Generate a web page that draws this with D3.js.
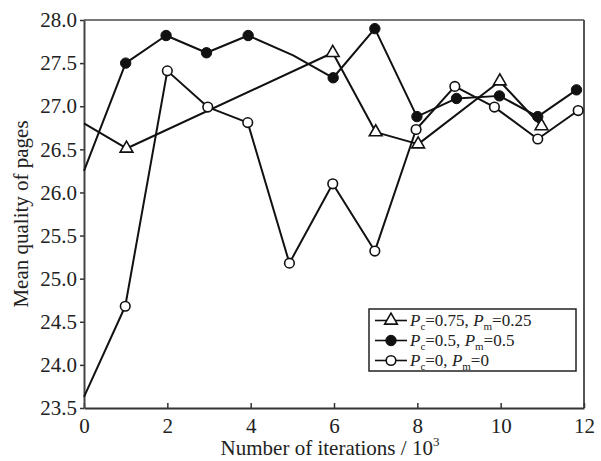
<!DOCTYPE html>
<html>
<head>
<meta charset="utf-8">
<script src="https://cdn.jsdelivr.net/npm/d3@7/dist/d3.min.js"></script>
<style>
  html, body { margin: 0; padding: 0; background: #fff; }
  svg { display: block; }
  text { font-family: "Liberation Serif", "Times New Roman", serif; fill: #222; }
</style>
</head>
<body>
<svg id="chart" width="601" height="461"></svg>
<script>
// ---- data ----
const xTicks = [0, 2, 4, 6, 8, 10, 12];
const yTicks = [23.5, 24.0, 24.5, 25.0, 25.5, 26.0, 26.5, 27.0, 27.5, 28.0];

// Pc=0.75, Pm=0.25 (open triangles)
const triX = [0, 1.02, 5.97, 7.0, 8.02, 9.98, 10.98];
const triY = [26.80, 26.51, 27.62, 26.70, 26.56, 27.29, 26.77];
const triMarked = [false, true, true, true, true, true, true];

// Pc=0.5, Pm=0.5 (filled circles)
const filX = [0, 1.0, 1.97, 2.94, 3.94, 5.02, 5.98, 6.98, 7.99, 8.94, 9.97, 10.89, 11.82];
const filY = [26.25, 27.50, 27.82, 27.62, 27.82, 27.59, 27.33, 27.90, 26.88, 27.09, 27.12, 26.88, 27.19];
const filMarked = [false, true, true, true, true, false, true, true, true, true, true, true, true];

// Pc=0, Pm=0 (open circles)
const opnX = [0, 0.99, 2.0, 2.97, 3.93, 4.93, 5.97, 6.98, 7.97, 8.9, 9.85, 10.89, 11.86];
const opnY = [23.63, 24.68, 27.41, 26.99, 26.81, 25.18, 26.10, 25.32, 26.73, 27.23, 26.99, 26.62, 26.95];
const opnMarked = [false, true, true, true, true, true, true, true, true, true, true, true, true];

const seriesNames = [
  { p1: "c", v1: "0.75", p2: "m", v2: "0.25" },
  { p1: "c", v1: "0.5",  p2: "m", v2: "0.5" },
  { p1: "c", v1: "0",    p2: "m", v2: "0" }
];

// ---- layout ----
const margin = { left: 84, top: 20, right: 17, bottom: 53 };
const W = 601, H = 461;
const pw = W - margin.left - margin.right;   // 500
const ph = H - margin.top - margin.bottom;   // 388

const svg = d3.select("#chart");
const g = svg.append("g").attr("transform", `translate(${margin.left},${margin.top})`);

const x = d3.scaleLinear().domain([0, 12]).range([0, pw]);
const y = d3.scaleLinear().domain([23.5, 28.0]).range([ph, 0]);

// frame top/right
g.append("line").attr("x1", 0).attr("x2", pw).attr("y1", 0).attr("y2", 0)
  .attr("stroke", "#777").attr("stroke-width", 2);
g.append("line").attr("x1", pw).attr("x2", pw).attr("y1", 0).attr("y2", ph)
  .attr("stroke", "#555").attr("stroke-width", 2);

// axes
const xAxis = d3.axisBottom(x).tickValues(xTicks).tickSizeInner(-5).tickSizeOuter(0).tickPadding(10)
  .tickFormat(d3.format("d"));
const gx = g.append("g").attr("transform", `translate(0,${ph})`).call(xAxis);
gx.select(".domain").attr("stroke", "#333").attr("stroke-width", 2);
gx.selectAll(".tick line").attr("stroke", "#333").attr("stroke-width", 1.5);
gx.selectAll(".tick text").attr("font-size", 21).attr("font-family", "Liberation Serif").attr("fill", "#222");

const yAxis = d3.axisLeft(y).tickValues(yTicks).tickSizeInner(4).tickSizeOuter(0).tickPadding(3)
  .tickFormat(d3.format(".1f"));
const gy = g.append("g").call(yAxis);
gy.select(".domain").attr("stroke", "#444").attr("stroke-width", 2);
gy.selectAll(".tick line").attr("stroke", "#333").attr("stroke-width", 1.5);
gy.selectAll(".tick text").attr("font-size", 21).attr("font-family", "Liberation Serif").attr("fill", "#222");

// axis titles
const xt = svg.append("text")
  .attr("x", margin.left + pw / 2 - 4).attr("y", 455)
  .attr("text-anchor", "middle").attr("font-size", 21);
xt.append("tspan").text("Number of iterations / 10");
xt.append("tspan").attr("font-size", 13).attr("dy", -9).text("3");

svg.append("text")
  .attr("transform", `translate(28,${margin.top + ph / 2}) rotate(-90)`)
  .attr("text-anchor", "middle").attr("font-size", 21)
  .text("Mean quality of pages");

// lines
const line = d3.line().x(d => x(d[0])).y(d => y(d[1]));
const mk = (xs, ys, ms) => xs.map((v, i) => [v, ys[i], ms[i]]);
const data = [
  { pts: mk(triX, triY, triMarked), type: "tri" },
  { pts: mk(filX, filY, filMarked), type: "fil" },
  { pts: mk(opnX, opnY, opnMarked), type: "opn" }
];

const plot = g.append("g");
data.forEach(s => {
  plot.append("path").datum(s.pts).attr("d", line)
    .attr("fill", "none").attr("stroke", "#111").attr("stroke-width", 2)
    .attr("stroke-linejoin", "round");
});

function drawMarker(sel, type) {
  if (type === "tri") {
    sel.append("path").attr("d", d3.symbol().type(d3.symbolTriangle).size(70)())
      .attr("fill", "#fff").attr("stroke", "#111").attr("stroke-width", 1.6);
  } else if (type === "fil") {
    sel.append("circle").attr("r", 5.2).attr("fill", "#111").attr("stroke", "#111").attr("stroke-width", 1);
  } else {
    sel.append("circle").attr("r", 4.8).attr("fill", "#fff").attr("stroke", "#111").attr("stroke-width", 1.6);
  }
}

data.forEach(s => {
  s.pts.filter(d => d[2]).forEach(d => {
    const m = plot.append("g").attr("transform", `translate(${x(d[0])},${y(d[1])})`);
    drawMarker(m, s.type);
  });
});

// legend
const lg = svg.append("g").attr("transform", "translate(369,309)");
lg.append("rect").attr("width", 207).attr("height", 62)
  .attr("fill", "#fff").attr("stroke", "#222").attr("stroke-width", 1.5);
const types = ["tri", "fil", "opn"];
seriesNames.forEach((n, i) => {
  const row = lg.append("g").attr("transform", `translate(0,${11.5 + i * 20})`);
  row.append("line").attr("x1", 6).attr("x2", 38).attr("y1", 0).attr("y2", 0)
    .attr("stroke", "#111").attr("stroke-width", 1.6);
  const m = row.append("g").attr("transform", "translate(22,0)");
  drawMarker(m, types[i]);
  const t = row.append("text").attr("x", 41).attr("y", 5.5).attr("font-size", 17);
  t.append("tspan").attr("font-style", "italic").text("P");
  t.append("tspan").attr("font-size", 11).attr("dy", 4).text(n.p1);
  t.append("tspan").attr("dy", -4).text("=" + n.v1 + ", ");
  t.append("tspan").attr("font-style", "italic").text("P");
  t.append("tspan").attr("font-size", 11).attr("dy", 4).text(n.p2);
  t.append("tspan").attr("dy", -4).text("=" + n.v2);
});
</script>
</body>
</html>
